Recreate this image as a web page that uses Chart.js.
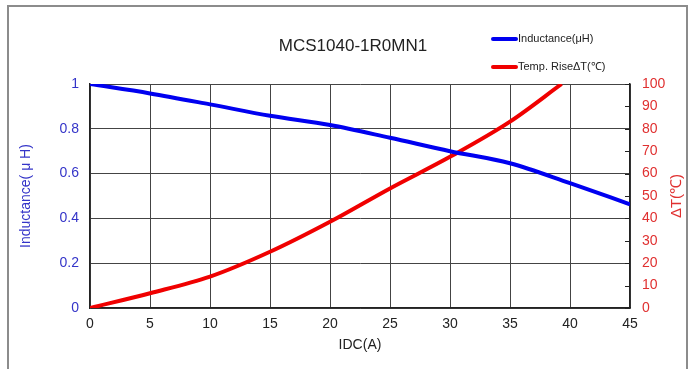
<!DOCTYPE html>
<html>
<head>
<meta charset="utf-8">
<script src="https://cdn.jsdelivr.net/npm/chart.js@4"></script>
<style>
  html, body { margin: 0; padding: 0; background: #fff; }
  #wrap { position: relative; width: 693px; height: 369px; overflow: hidden; }
  #frame { position: absolute; left: 7px; top: 5px; width: 681px; height: 400px; border: 2px solid #8c8c8c; box-sizing: border-box; }
  canvas { position: absolute; left: 0; top: 0; }
</style>
</head>
<body>
<div id="wrap">
  <div id="frame"></div>
  <canvas id="chart" width="693" height="369"></canvas>
</div>
<script>
// IDC (A) sample points
const idcL = [0, 5, 10, 15, 20, 25, 30, 35, 40, 45];
const inductance = [1.0, 0.958, 0.909, 0.858, 0.817, 0.76, 0.70, 0.646, 0.557, 0.463];

const idcT = [0, 5, 10, 15, 20, 25, 30, 35, 39.3];
const tempRise = [0, 6.6, 14.0, 25.1, 38.5, 53.4, 67.5, 83.2, 100];

const xTicks = [0, 5, 10, 15, 20, 25, 30, 35, 40, 45];

const chartTitle = "MCS1040-1R0MN1";
const blue = "#0000f0";
const red = "#f00000";
const font = "'Liberation Sans', Arial, sans-serif";

function toPoints(xs, ys) {
  return xs.map((x, i) => ({ x: x, y: ys[i] }));
}

// title, legend, right axis title and inner tick marks
const extras = {
  id: "extras",
  afterDraw(chart) {
    const ctx = chart.ctx;
    const area = chart.chartArea;
    const y1 = chart.scales.y1;
    ctx.save();

    // inner ticks on the right axis
    ctx.strokeStyle = "#222";
    ctx.lineWidth = 1;
    y1.ticks.forEach(t => {
      const py = Math.round(y1.getPixelForValue(t.value)) + 0.5;
      ctx.beginPath();
      ctx.moveTo(area.right - 5, py);
      ctx.lineTo(area.right, py);
      ctx.stroke();
    });

    // title
    ctx.fillStyle = "#222";
    ctx.font = "17px " + font;
    ctx.textAlign = "center";
    ctx.textBaseline = "middle";
    ctx.fillText(chartTitle, 353, 46);

    // legend
    ctx.font = "11px " + font;
    ctx.textAlign = "left";
    chart.data.datasets.forEach((ds, i) => {
      const ly = 39 + i * 28;
      ctx.strokeStyle = ds.borderColor;
      ctx.lineWidth = 4;
      ctx.lineCap = "round";
      ctx.beginPath();
      ctx.moveTo(493, ly);
      ctx.lineTo(516, ly);
      ctx.stroke();
      ctx.fillStyle = "#222";
      ctx.fillText(ds.label, 518, ly);
    });

    // right axis title, reading bottom to top
    ctx.translate(677, (area.top + area.bottom) / 2);
    ctx.rotate(-Math.PI / 2);
    ctx.fillStyle = "#e03030";
    ctx.font = "15px " + font;
    ctx.textAlign = "center";
    ctx.fillText("ΔT(℃)", 0, 0);
    ctx.restore();
  }
};

new Chart(document.getElementById("chart"), {
  type: "line",
  data: {
    datasets: [{
      label: "Inductance(μH)",
      data: toPoints(idcL, inductance),
      borderColor: blue,
      backgroundColor: blue,
      borderWidth: 4,
      pointRadius: 0,
      cubicInterpolationMode: "monotone",
      yAxisID: "y"
    }, {
      label: "Temp. RiseΔT(℃)",
      data: toPoints(idcT, tempRise),
      borderColor: red,
      backgroundColor: red,
      borderWidth: 4,
      pointRadius: 0,
      cubicInterpolationMode: "monotone",
      yAxisID: "y1"
    }]
  },
  options: {
    responsive: false,
    animation: false,
    events: [],
    layout: { padding: { top: 84, left: 0, right: 0, bottom: 0 } },
    plugins: {
      legend: { display: false },
      title: { display: false },
      tooltip: { enabled: false }
    },
    scales: {
      x: {
        type: "linear",
        min: 0,
        max: 45,
        afterBuildTicks: s => { s.ticks = xTicks.map(v => ({ value: v })); },
        afterFit: s => { s.height = 61; },
        ticks: { color: "#222", font: { family: font, size: 14 }, padding: 8, maxRotation: 0 },
        grid: { color: "#444", drawTicks: false },
        border: { color: "#222", width: 1.5 },
        title: { display: true, text: "IDC(A)", color: "#222", font: { family: font, size: 14 }, padding: { top: 0, bottom: 15 } }
      },
      y: {
        position: "left",
        min: 0,
        max: 1,
        afterFit: s => { s.width = 90; },
        ticks: { stepSize: 0.2, color: "#3434c8", font: { family: font, size: 14 }, padding: 11,
                 callback: v => String(+v.toFixed(1)) },
        grid: { color: "#444", drawTicks: false },
        border: { color: "#222", width: 1.5 },
        title: { display: true, text: "Inductance( μ H)", color: "#3434c8", font: { family: font, size: 14 }, padding: { top: 18, bottom: 0 } }
      },
      y1: {
        position: "right",
        min: 0,
        max: 100,
        afterFit: s => { s.width = 63; },
        ticks: { stepSize: 10, color: "#e03030", font: { family: font, size: 14 }, padding: 12 },
        grid: { drawOnChartArea: false, drawTicks: false },
        border: { color: "#222", width: 1.5 }
      }
    }
  },
  plugins: [extras]
});
</script>
</body>
</html>
